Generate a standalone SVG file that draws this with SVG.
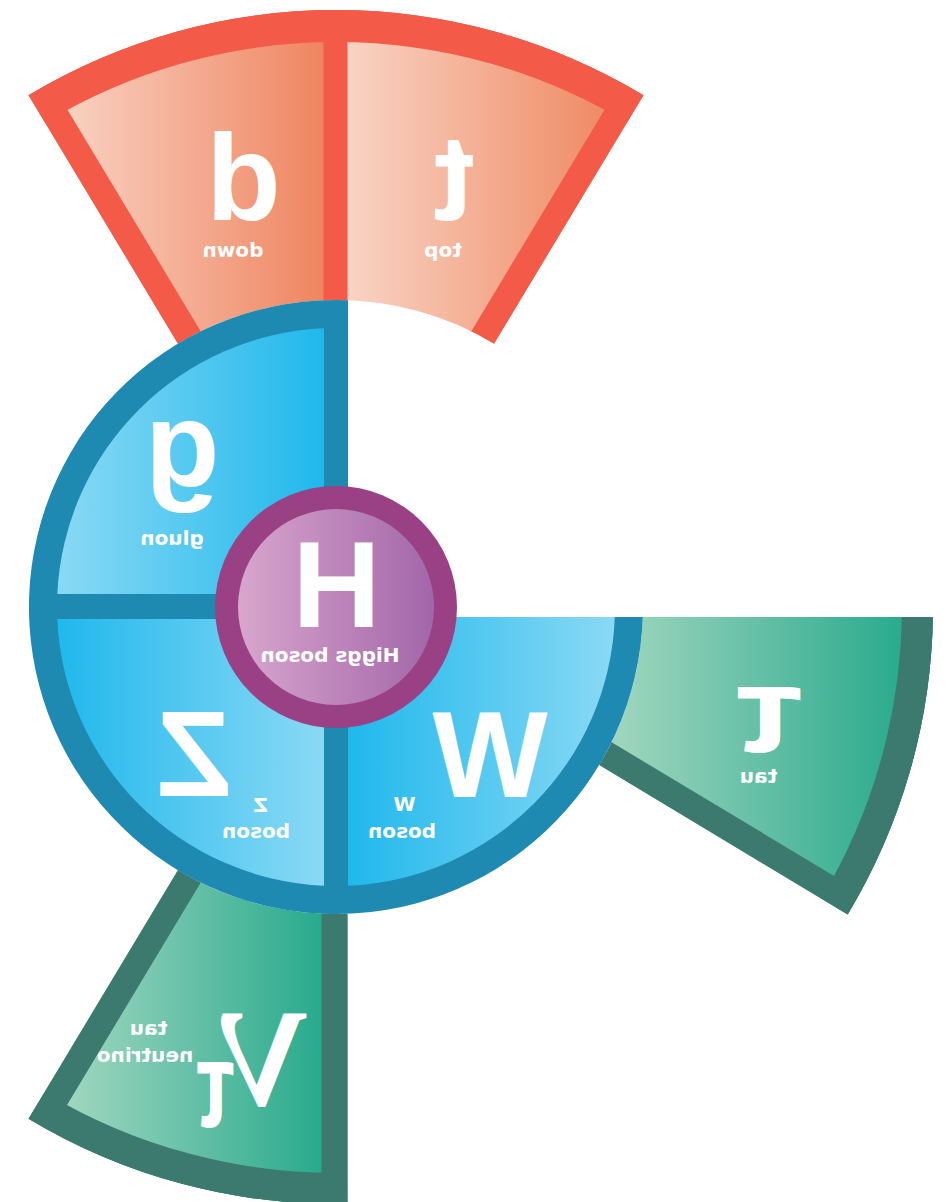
<svg xmlns="http://www.w3.org/2000/svg" width="949" height="1202" viewBox="0 0 949 1202">
<style>
.big{font-family:"Liberation Sans",Arial,sans-serif;font-weight:bold;font-size:122px;fill:#fff;text-anchor:middle}
.lbl{font-family:"DejaVu Sans",Verdana,sans-serif;font-weight:bold;font-size:20px;fill:#fff;text-anchor:middle}
.rb{fill:none;stroke:#f45a48;stroke-width:52}
.ra{fill:none;stroke:#f45a48;stroke-width:64}
.gb{fill:none;stroke:#3c7a6f;stroke-width:52}
.ga{fill:none;stroke:#3c7a6f;stroke-width:62}
</style>
<defs>
<linearGradient id="gRedB" gradientUnits="userSpaceOnUse" x1="60" y1="0" x2="323" y2="0"><stop offset="0" stop-color="#f9d3c4"/><stop offset="1" stop-color="#ef8560"/></linearGradient>
<linearGradient id="gRedT" gradientUnits="userSpaceOnUse" x1="348" y1="0" x2="612" y2="0"><stop offset="0" stop-color="#f9d3c4"/><stop offset="1" stop-color="#ef8962"/></linearGradient>
<linearGradient id="gTau" gradientUnits="userSpaceOnUse" x1="600" y1="0" x2="910" y2="0"><stop offset="0" stop-color="#a6d8c1"/><stop offset="1" stop-color="#27a98c"/></linearGradient>
<linearGradient id="gNu" gradientUnits="userSpaceOnUse" x1="50" y1="0" x2="326" y2="0"><stop offset="0" stop-color="#a8d9c3"/><stop offset="1" stop-color="#27a98c"/></linearGradient>
<linearGradient id="gGluon" gradientUnits="userSpaceOnUse" x1="57" y1="0" x2="324" y2="0"><stop offset="0" stop-color="#8ad9f4"/><stop offset="1" stop-color="#20b8ec"/></linearGradient>
<linearGradient id="gZ" gradientUnits="userSpaceOnUse" x1="57" y1="0" x2="324" y2="0"><stop offset="0" stop-color="#20b8ec"/><stop offset="1" stop-color="#8ad9f4"/></linearGradient>
<linearGradient id="gW" gradientUnits="userSpaceOnUse" x1="348" y1="0" x2="615" y2="0"><stop offset="0" stop-color="#20b8ec"/><stop offset="1" stop-color="#8ad9f4"/></linearGradient>
<linearGradient id="gH" gradientUnits="userSpaceOnUse" x1="238" y1="0" x2="434" y2="0"><stop offset="0" stop-color="#d8a6cd"/><stop offset="1" stop-color="#a266a9"/></linearGradient>
<clipPath id="cRed"><path d="M177.9,343.8 L28.5,95.3 A597,597 0 0 1 643.5,95.3 L494.1,343.8 A307,307 0 0 0 177.9,343.8 Z"/></clipPath>
<clipPath id="cTau"><path d="M642.8,617 L932.9,617 A597,597 0 0 1 847.7,914.5 L599.2,765.1 A307,307 0 0 0 642.8,617 Z"/></clipPath>
<clipPath id="cNu"><path d="M347.5,913.8 L347.5,1203.9 A597,597 0 0 1 28.5,1118.7 L177.9,870.2 A307,307 0 0 0 347.5,913.8 Z"/></clipPath>
</defs>

<g id="quarks">
  <g clip-path="url(#cRed)">
    <path d="M336,607 L28.5,95.3 A597,597 0 0 1 336,10 Z" fill="url(#gRedB)"/>
    <path d="M336,607 L336,10 A597,597 0 0 1 643.5,95.3 Z" fill="url(#gRedT)"/>
    <path class="rb" d="M212.4,401.3 L28.5,95.3 A597,597 0 0 1 643.5,95.3 L459.6,401.3 A240,240 0 0 0 212.4,401.3 Z"/>
    <path class="ra" d="M28.5,95.3 A597,597 0 0 1 643.5,95.3"/>
    <rect x="323.5" y="0" width="24" height="360" fill="#f45a48"/>
  </g>
</g>

<g id="tau">
  <path d="M642.8,617 L932.9,617 A597,597 0 0 1 847.7,914.5 L599.2,765.1 A307,307 0 0 0 642.8,617 Z" fill="url(#gTau)"/>
  <g clip-path="url(#cTau)">
    <path class="gb" d="M571.4,560 L931.1,560 A597,597 0 0 1 847.7,914.5 L541.7,730.6 A240,240 0 0 0 571.4,560 Z"/>
    <path class="ga" d="M931.1,560 A597,597 0 0 1 847.7,914.5"/>
  </g>
</g>

<g id="tau-neutrino">
  <path d="M347.5,913.8 L347.5,1203.9 A597,597 0 0 1 28.5,1118.7 L177.9,870.2 A307,307 0 0 0 347.5,913.8 Z" fill="url(#gNu)"/>
  <g clip-path="url(#cNu)">
    <path class="gb" d="M347.5,846.7 L347.5,1203.9 A597,597 0 0 1 28.5,1118.7 L212.4,812.7 A240,240 0 0 0 347.5,846.7 Z"/>
    <path class="ga" d="M347.5,1203.9 A597,597 0 0 1 28.5,1118.7"/>
  </g>
</g>

<g id="bosons">
  <path d="M348,617 L642.8,617 A307,307 0 1 1 348,300.2 Z" fill="#1e89b1"/>
  <g id="gluon"><path d="M324,594 L57.3,594 A279,279 0 0 1 324,328.3 Z" fill="url(#gGluon)"/></g>
  <g id="z-boson"><path d="M324,619 L324,885.7 A279,279 0 0 1 57.3,619 Z" fill="url(#gZ)"/></g>
  <g id="w-boson"><path d="M348,617 L614.8,617 A279,279 0 0 1 348,885.7 Z" fill="url(#gW)"/></g>
</g>

<g id="higgs">
  <circle cx="336" cy="607" r="121" fill="#9a4186"/>
  <circle cx="336" cy="607" r="98" fill="url(#gH)"/>
</g>

<g id="labels">
  <text class="big" x="243.5" y="220" transform="matrix(-1 0 0 1 487 0)">d</text>
  <text class="lbl" x="233" y="257" transform="matrix(-1 0 0 1 466 0)">down</text>
  <text class="big" x="454" y="220" transform="matrix(-1 0 0 1 908 0)">t</text>
  <text class="lbl" x="443" y="257" transform="matrix(-1 0 0 1 886 0)">top</text>
  <text class="big" x="182" y="487" transform="matrix(-1 0 0 1 364 0)">g</text>
  <text class="lbl" x="172" y="545" transform="matrix(-1 0 0 1 344 0)">gluon</text>
  <text class="big" x="336.5" y="627" transform="matrix(-1 0 0 1 673 0)">H</text>
  <text class="lbl" x="330" y="662" transform="matrix(-1 0 0 1 660 0)">Higgs boson</text>
  <text class="big" x="194" y="796" transform="matrix(-1 0 0 1 388 0)">Z</text>
  <text class="lbl" x="260.5" y="812" transform="matrix(-1 0 0 1 521 0)">Z</text>
  <text class="lbl" x="256" y="838" transform="matrix(-1 0 0 1 512 0)">boson</text>
  <text class="big" x="490" y="797" transform="matrix(-1 0 0 1 980 0)">W</text>
  <text class="lbl" x="404.5" y="811" transform="matrix(-1 0 0 1 809 0)">W</text>
  <text class="lbl" x="402" y="838" transform="matrix(-1 0 0 1 804 0)">boson</text>
  <text class="big" x="768.5" y="752" font-size="158" textLength="66" lengthAdjust="spacingAndGlyphs" transform="matrix(-1 0 0 1 1537 0)">τ</text>
  <text class="lbl" x="758.5" y="783" font-size="18" transform="matrix(-1 0 0 1 1517 0)">tau</text>
  <text x="261.5" y="1105" font-family="'Liberation Serif','Times New Roman',serif" font-size="200" fill="#fff" text-anchor="middle" transform="matrix(-1 0 0 1 523 0)">ν</text>
  <text class="big" x="215" y="1127" font-size="81" textLength="38" lengthAdjust="spacingAndGlyphs" transform="matrix(-1 0 0 1 430 0)">τ</text>
  <text class="lbl" x="148.5" y="1035" font-size="19" transform="matrix(-1 0 0 1 297 0)">tau</text>
  <text class="lbl" x="145" y="1062" font-size="19" transform="matrix(-1 0 0 1 290 0)">neutrino</text>
</g>
</svg>
